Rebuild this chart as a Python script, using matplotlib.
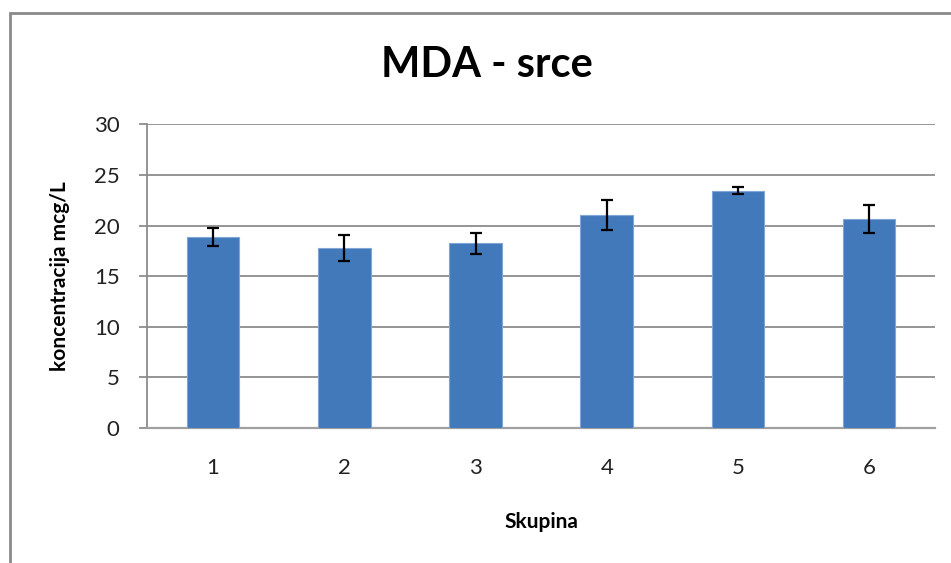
import matplotlib
matplotlib.use("Agg")
import matplotlib.pyplot as plt
from matplotlib.patches import Rectangle

# data
groups = ["1", "2", "3", "4", "5", "6"]
mda = [18.9, 17.75, 18.25, 21.05, 23.45, 20.65]
mda_err = [0.9, 1.3, 1.05, 1.45, 0.35, 1.4]
y_ticks = [0, 5, 10, 15, 20, 25, 30]

plt.rcParams['font.family'] = ['Lato', 'DejaVu Sans']

fig = plt.figure(figsize=(9.51, 5.63), dpi=100)
ax = fig.add_axes([0.155, 0.240, 0.828, 0.539])

# outer chart frame (runs off the right and bottom edge)
fig.patches.append(Rectangle((9.5 / 951, -0.05), 1.1, 1 - 12.5 / 563 + 0.05,
                             transform=fig.transFigure, fill=False,
                             edgecolor="#8a8a8a", linewidth=2))

x = range(len(groups))
ax.bar(x, mda, width=0.4, color="#4279bb", edgecolor="#7fa6d6",
       linewidth=0.8, zorder=3)
ax.errorbar(x, mda, yerr=mda_err, fmt="none", ecolor="black",
            elinewidth=1.6, capsize=4.5, capthick=1.6, zorder=4)

ax.set_xlim(-0.5, len(groups) - 0.5)
ax.set_ylim(0, 30)
ax.set_yticks(y_ticks)
ax.set_xticks(list(x))
ax.set_xticklabels(groups)
ax.yaxis.grid(True, color="#8c8c8c", linewidth=1.3, zorder=0)
ax.set_axisbelow(True)

for side in ["top", "right"]:
    ax.spines[side].set_visible(False)
ax.spines["left"].set_color("#8c8c8c")
ax.spines["left"].set_linewidth(1.3)
ax.spines["bottom"].set_color("#a0a0a0")
ax.spines["bottom"].set_linewidth(1.6)

ax.tick_params(axis="y", direction="out", length=6, width=1.3,
               color="#8c8c8c", labelsize=16, labelcolor="#222222", pad=14)
ax.tick_params(axis="x", length=0, labelsize=16, labelcolor="#222222", pad=22)

ax.set_ylabel("koncentracija mcg/L", fontsize=15, fontweight="bold",
              labelpad=17)
ax.set_xlabel("Skupina", fontsize=15, fontweight="bold", labelpad=24)

fig.text(0.512, 0.885, "MDA - srce", ha="center", va="center",
         fontsize=30, fontweight="bold")

fig.savefig("out.png", dpi=100)
